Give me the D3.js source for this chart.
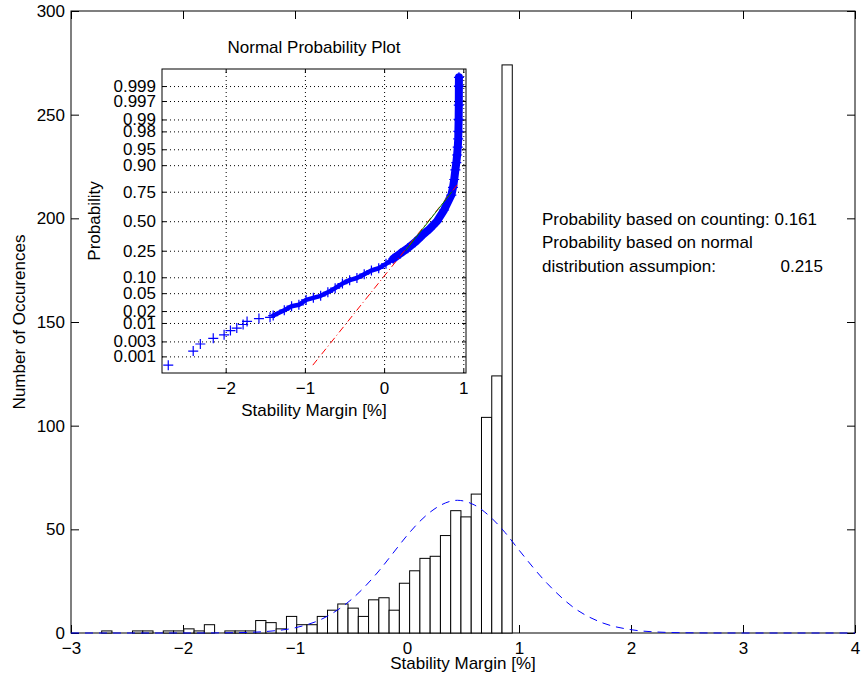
<!DOCTYPE html>
<html>
<head>
<meta charset="utf-8">
<script src="https://cdn.jsdelivr.net/npm/d3@7"></script>
<style>
    body { margin: 0; background: #fff; }
    svg text { font-family: "Liberation Sans", Arial, Helvetica, sans-serif; font-size: 17px; fill: #000; }
    .axis path.domain { display: none; }
    .axis line { stroke: #000; }
    .grid line { stroke: #000; stroke-dasharray: 1,3; }
    .grid path.domain { display: none; }
</style>
</head>
<body>
<svg id="chart" width="862" height="684"></svg>
<script>
// histogram of the stability margin, 40 equal bins between the data min and max
const histMin = -2.726;
const histMax = 0.940;
const counts = [1, 0, 0, 1, 1, 0, 1, 1, 2, 1, 4, 0, 1, 1, 1, 6, 5, 2, 8, 4,
    4, 8, 11, 14, 12, 8, 16, 17, 11, 24, 30, 36, 37, 47, 59, 56, 67, 104, 124, 274];

// fitted normal curve
const fitX = [-3, -2.5, -2, -1.75, -1.5, -1.25, -1, -0.75, -0.5, -0.25, -0.125, 0, 0.125, 0.25,
    0.45, 0.6, 0.75, 0.875, 1, 1.25, 1.5, 1.75, 2, 2.25, 2.5, 2.75, 3, 3.5, 4];
const fitY = [0, 0, 0.01, 0.04, 0.19, 0.76, 2.5, 7.0, 16, 30, 38.5, 47, 54.4, 60,
    64, 61.8, 55.7, 48.5, 40, 24, 11.8, 4.8, 1.6, 0.44, 0.1, 0.01, 0, 0, 0];

const xTicksMain = [-3, -2, -1, 0, 1, 2, 3, 4];
const yTicksMain = [0, 50, 100, 150, 200, 250, 300];

// normal probability plot: isolated markers in the lower tail
const tailX = [-2.725, -2.41, -2.32, -2.157, -2.02, -1.94, -1.86, -1.78, -1.73, -1.58, -1.44];
const tailP = [0.0005, 0.0015, 0.0025, 0.0037, 0.0047, 0.0062, 0.0073, 0.0091, 0.011, 0.013, 0.014];

// dense part of the plot (overlapping markers)
const bandX = [-1.40, -1.26, -1.168, -1.076, -0.985, -0.893, -0.801, -0.710, -0.618, -0.526,
    -0.435, -0.343, -0.251, -0.160, -0.068, 0.024, 0.115, 0.207, 0.299, 0.390, 0.482,
    0.574, 0.665, 0.757, 0.849, 0.87, 0.885, 0.90, 0.912, 0.922, 0.93, 0.936, 0.938,
    0.941, 0.943, 0.944, 0.945];
const bandP = [0.0155, 0.021, 0.026, 0.028, 0.036, 0.040, 0.044, 0.052, 0.063, 0.077,
    0.089, 0.097, 0.113, 0.130, 0.141, 0.165, 0.195, 0.231, 0.268, 0.315, 0.374,
    0.430, 0.497, 0.601, 0.725, 0.78, 0.83, 0.88, 0.91, 0.935, 0.955, 0.97, 0.98,
    0.99, 0.996, 0.999, 0.9995];

// reference line (red dash-dot) and quartile segment (green)
const refX = [-0.90, 0.945];
const refP = [0.0005, 0.81];
const quartX = [0.27, 0.857];
const quartP = [0.25, 0.75];

const probTicks = [0.001, 0.003, 0.01, 0.02, 0.05, 0.10, 0.25, 0.50, 0.75, 0.90, 0.95, 0.98, 0.99, 0.997, 0.999];
const probLabels = ["0.001", "0.003", "0.01", "0.02", "0.05", "0.10", "0.25", "0.50", "0.75",
    "0.90", "0.95", "0.98", "0.99", "0.997", "0.999"];
const xTicksInset = [-2, -1, 0, 1];

const noteLines = ["Probability based on counting: 0.161", "Probability based on normal", "distribution assumpion:"];
const noteValue = "0.215";

// inverse normal cdf (Acklam), used for the probability axis
function probit(p) {
    const a = [-39.69683028665376, 220.9460984245205, -275.9285104469687, 138.3577518672690, -30.66479806614716, 2.506628277459239];
    const b = [-54.47609879822406, 161.5858368580409, -155.6989798598866, 66.80131188771972, -13.28068155288572];
    const c = [-0.007784894002430293, -0.3223964580411365, -2.400758277161838, -2.549732539343734, 4.374664141464968, 2.938163982698783];
    const d = [0.007784695709041462, 0.3224671290700398, 2.445134137142996, 3.754408661907416];
    const plow = 0.02425;
    if (p < plow) {
        const q = Math.sqrt(-2 * Math.log(p));
        return (((((c[0] * q + c[1]) * q + c[2]) * q + c[3]) * q + c[4]) * q + c[5]) /
            ((((d[0] * q + d[1]) * q + d[2]) * q + d[3]) * q + 1);
    }
    if (p > 1 - plow) {
        const q = Math.sqrt(-2 * Math.log(1 - p));
        return -(((((c[0] * q + c[1]) * q + c[2]) * q + c[3]) * q + c[4]) * q + c[5]) /
            ((((d[0] * q + d[1]) * q + d[2]) * q + d[3]) * q + 1);
    }
    const q = p - 0.5, r = q * q;
    return (((((a[0] * r + a[1]) * r + a[2]) * r + a[3]) * r + a[4]) * r + a[5]) * q /
        (((((b[0] * r + b[1]) * r + b[2]) * r + b[3]) * r + b[4]) * r + 1);
}

const intFmt = d3.format("d");
const svg = d3.select("#chart");

// ---------- main histogram ----------
const main = { left: 71, top: 11, right: 855, bottom: 633 };
const x = d3.scaleLinear().domain([-3, 4]).range([main.left, main.right]);
const y = d3.scaleLinear().domain([0, 300]).range([main.bottom, main.top]);
const bin = d3.scaleLinear().domain([0, counts.length]).range([histMin, histMax]);

svg.append("rect")
    .attr("x", main.left).attr("y", main.top)
    .attr("width", main.right - main.left).attr("height", main.bottom - main.top)
    .attr("fill", "#fff").attr("stroke", "#000");

svg.append("g").attr("class", "axis")
    .attr("transform", `translate(0,${main.bottom})`)
    .call(d3.axisBottom(x).tickValues(xTicksMain).tickSize(-8).tickSizeOuter(0).tickPadding(9).tickFormat(intFmt));
svg.append("g").attr("class", "axis")
    .attr("transform", `translate(0,${main.top})`)
    .call(d3.axisTop(x).tickValues(xTicksMain).tickSize(-8).tickSizeOuter(0).tickFormat(""));
svg.append("g").attr("class", "axis")
    .attr("transform", `translate(${main.left},0)`)
    .call(d3.axisLeft(y).tickValues(yTicksMain).tickSize(-8).tickSizeOuter(0).tickPadding(6));
svg.append("g").attr("class", "axis")
    .attr("transform", `translate(${main.right},0)`)
    .call(d3.axisRight(y).tickValues(yTicksMain).tickSize(-8).tickSizeOuter(0).tickFormat(""));

svg.append("g")
    .selectAll("rect")
    .data(counts.map((c, i) => ({ c, i })).filter(d => d.c > 0))
    .enter().append("rect")
    .attr("x", d => x(bin(d.i)))
    .attr("width", d => x(bin(d.i + 1)) - x(bin(d.i)))
    .attr("y", d => y(d.c))
    .attr("height", d => y(0) - y(d.c))
    .attr("fill", "#fff")
    .attr("stroke", "#000")
    .attr("stroke-width", 1);

svg.append("path")
    .datum(fitX.map((v, i) => [v, fitY[i]]))
    .attr("d", d3.line().x(d => x(d[0])).y(d => y(d[1])).curve(d3.curveMonotoneX))
    .attr("fill", "none")
    .attr("stroke", "#0000ff")
    .attr("stroke-width", 1)
    .attr("stroke-dasharray", "8,6");

svg.append("text")
    .attr("x", (main.left + main.right) / 2).attr("y", 669)
    .attr("text-anchor", "middle")
    .text("Stability Margin [%]");
svg.append("text")
    .attr("transform", `translate(25,${(main.top + main.bottom) / 2}) rotate(-90)`)
    .attr("text-anchor", "middle")
    .text("Number of Occurences");

const note = svg.append("g");
noteLines.forEach((t, i) => {
    note.append("text").attr("x", 542).attr("y", 225 + i * 23.3).text(t);
});
note.append("text").attr("x", 823).attr("y", 225 + 2 * 23.3).attr("text-anchor", "end").text(noteValue);

// ---------- inset: normal probability plot ----------
const ins = { left: 162, top: 69, right: 466, bottom: 373 };
const xi = d3.scaleLinear().domain([-2.804, 1.034]).range([ins.left, ins.right]);
const zi = d3.scaleLinear().domain([-3.47, 3.48]).range([ins.bottom, ins.top]);
const yi = p => zi(probit(p));

const inset = svg.append("g");
inset.append("rect")
    .attr("x", ins.left).attr("y", ins.top)
    .attr("width", ins.right - ins.left).attr("height", ins.bottom - ins.top)
    .attr("fill", "#fff");

inset.append("g").attr("class", "grid")
    .attr("transform", `translate(0,${ins.bottom})`)
    .call(d3.axisBottom(xi).tickValues(xTicksInset).tickSize(-(ins.bottom - ins.top)).tickFormat(""));
inset.append("g").attr("class", "grid")
    .attr("transform", `translate(${ins.left},0)`)
    .call(d3.axisLeft(zi).tickValues(probTicks.map(probit)).tickSize(-(ins.right - ins.left)).tickFormat(""));

inset.append("g").attr("class", "axis")
    .attr("transform", `translate(0,${ins.bottom})`)
    .call(d3.axisBottom(xi).tickValues(xTicksInset).tickSize(-4).tickSizeOuter(0).tickPadding(9).tickFormat(intFmt));
inset.append("g").attr("class", "axis")
    .attr("transform", `translate(0,${ins.top})`)
    .call(d3.axisTop(xi).tickValues(xTicksInset).tickSize(-4).tickSizeOuter(0).tickFormat(""));
inset.append("g").attr("class", "axis")
    .attr("transform", `translate(${ins.left},0)`)
    .call(d3.axisLeft(zi).tickValues(probTicks.map(probit)).tickSize(-4).tickSizeOuter(0).tickPadding(6)
        .tickFormat((d, i) => probLabels[i]));
inset.append("g").attr("class", "axis")
    .attr("transform", `translate(${ins.right},0)`)
    .call(d3.axisRight(zi).tickValues(probTicks.map(probit)).tickSize(-4).tickSizeOuter(0).tickFormat(""));

inset.append("rect")
    .attr("x", ins.left).attr("y", ins.top)
    .attr("width", ins.right - ins.left).attr("height", ins.bottom - ins.top)
    .attr("fill", "none").attr("stroke", "#000");

// dense band of overlapping markers: thinner in the lower part, wider where points pile up
const bandPts = bandX.map((v, i) => [v, bandP[i]]);
const bandLine = d3.line().x(d => xi(d[0])).y(d => yi(d[1]));
inset.append("path")
    .datum(bandPts)
    .attr("d", bandLine)
    .attr("fill", "none")
    .attr("stroke", "#0000ff")
    .attr("stroke-width", 4.5)
    .attr("stroke-linejoin", "round")
    .attr("stroke-linecap", "round");
inset.append("path")
    .datum(bandPts.filter(d => d[0] > 0.1))
    .attr("d", bandLine)
    .attr("fill", "none")
    .attr("stroke", "#0000ff")
    .attr("stroke-width", 8)
    .attr("stroke-linejoin", "round")
    .attr("stroke-linecap", "round");

const marks = tailX.map((v, i) => [v, tailP[i]]).concat(bandPts);
inset.append("g")
    .selectAll("path")
    .data(marks)
    .enter().append("path")
    .attr("transform", d => `translate(${xi(d[0])},${yi(d[1])})`)
    .attr("d", "M-5,0H5M0,-5V5")
    .attr("stroke", "#0000ff")
    .attr("stroke-width", 1.2)
    .attr("fill", "none");

inset.append("path")
    .datum(refX.map((v, i) => [v, refP[i]]))
    .attr("d", d3.line().x(d => xi(d[0])).y(d => yi(d[1])))
    .attr("stroke", "#ff0000")
    .attr("stroke-width", 1)
    .attr("stroke-dasharray", "7,3,1,3");

inset.append("path")
    .datum(quartX.map((v, i) => [v, quartP[i]]))
    .attr("d", d3.line().x(d => xi(d[0])).y(d => yi(d[1])))
    .attr("stroke", "#008000")
    .attr("stroke-width", 1);

inset.append("text")
    .attr("x", (ins.left + ins.right) / 2).attr("y", 53)
    .attr("text-anchor", "middle")
    .text("Normal Probability Plot");
inset.append("text")
    .attr("x", (ins.left + ins.right) / 2).attr("y", 416)
    .attr("text-anchor", "middle")
    .text("Stability Margin [%]");
inset.append("text")
    .attr("transform", `translate(100,${(ins.top + ins.bottom) / 2}) rotate(-90)`)
    .attr("text-anchor", "middle")
    .text("Probability");
</script>
</body>
</html>
